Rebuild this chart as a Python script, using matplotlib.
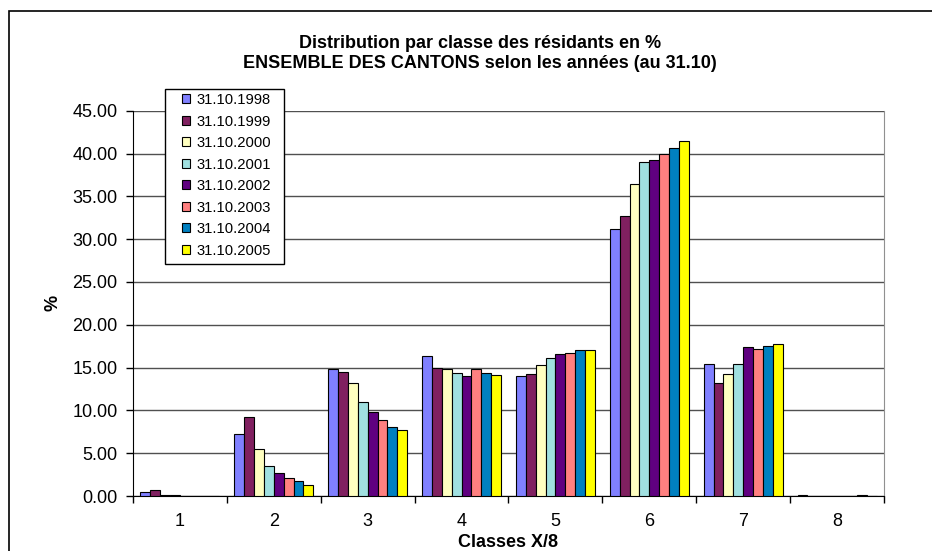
import matplotlib
matplotlib.use("Agg")
import matplotlib.pyplot as plt
import numpy as np
from matplotlib.patches import Rectangle

plt.rcParams['font.family'] = ['Liberation Sans', 'DejaVu Sans']

# classes X/8
classes = ["1", "2", "3", "4", "5", "6", "7", "8"]
years = ["31.10.1998", "31.10.1999", "31.10.2000", "31.10.2001",
         "31.10.2002", "31.10.2003", "31.10.2004", "31.10.2005"]

# % of residents per class, one list per year
v1998 = [0.50, 7.20, 14.85, 16.30, 14.05, 31.20, 15.40, 0.10]
v1999 = [0.65, 9.20, 14.45, 15.00, 14.30, 32.70, 13.25, 0.00]
v2000 = [0.10, 5.50, 13.15, 14.85, 15.25, 36.40, 14.30, 0.00]
v2001 = [0.10, 3.45, 10.95, 14.40, 16.15, 39.00, 15.40, 0.00]
v2002 = [0.00, 2.65, 9.85, 14.05, 16.55, 39.25, 17.40, 0.00]
v2003 = [0.00, 2.15, 8.85, 14.85, 16.70, 39.90, 17.15, 0.00]
v2004 = [0.00, 1.70, 8.10, 14.40, 17.00, 40.60, 17.55, 0.10]
v2005 = [0.00, 1.30, 7.75, 14.15, 17.00, 41.50, 17.80, 0.00]
series = [v1998, v1999, v2000, v2001, v2002, v2003, v2004, v2005]

colors = ["#8080FF", "#802060", "#FFFFC0", "#A0E0E0",
          "#600080", "#FF8080", "#0080C0", "#FFFF00"]

fig = plt.figure(figsize=(9.32, 5.51), dpi=100)
ax = fig.add_axes([0.1427, 0.0998, 0.8058, 0.6993])

# outer chart frame (cut by the image on the right and bottom)
fig.patches.append(Rectangle((9 / 932, -0.05), 1.0, 1 - 11 / 551 + 0.05,
                             transform=fig.transFigure, fill=False,
                             edgecolor="black", linewidth=1.2))

x = np.arange(1, len(classes) + 1)
n = len(series)
w = 1.0 / (n + 1.5)
for i, vals in enumerate(series):
    ax.bar(x + (i - (n - 1) / 2) * w, vals, width=w, color=colors[i],
           edgecolor="black", linewidth=0.8, label=years[i], zorder=3)

ax.set_xlim(0.5, len(classes) + 0.5)
ax.set_ylim(0, 45)
ax.set_yticks(np.arange(0, 45.1, 5))
ax.set_yticklabels([f"{t:.2f}" for t in np.arange(0, 45.1, 5)])
ax.set_xticks(x)
ax.set_xticklabels(classes)
ax.set_xticks(np.arange(0.5, len(classes) + 1), minor=True)
ax.tick_params(axis="x", which="major", length=0, labelsize=13, pad=12)
ax.tick_params(axis="x", which="minor", length=5, direction="out", width=1)
ax.tick_params(axis="y", length=5, direction="out", labelsize=13, width=1,
               pad=6)
ax.yaxis.grid(True, color="#505050", linewidth=1, zorder=0)

ax.spines["top"].set_visible(False)
ax.spines["right"].set_color("#909090")
ax.spines["left"].set_color("black")
ax.spines["bottom"].set_color("black")

ax.set_xlabel("Classes X/8", fontsize=13, fontweight="bold", labelpad=3)
ax.set_ylabel("%", fontsize=13, fontweight="bold", labelpad=8)

fig.text(0.515, 1 - 43 / 551, "Distribution par classe des résidants en %",
         ha="center", va="center", fontsize=13, fontweight="bold")
fig.text(0.515, 1 - 64 / 551, "ENSEMBLE DES CANTONS selon les années (au 31.10)",
         ha="center", va="center", fontsize=13, fontweight="bold")

# legend box drawn separately so its size matches the original
ax.add_patch(Rectangle((165 / 932, 1 - 264 / 551), 119 / 932, 175 / 551,
                       transform=fig.transFigure, facecolor="white",
                       edgecolor="black", linewidth=1, zorder=5,
                       clip_on=False))
leg = ax.legend(loc="upper left", bbox_to_anchor=(182 / 932, 1 - 93 / 551),
                bbox_transform=fig.transFigure, fontsize=10.6, frameon=False,
                handlelength=0.55, handleheight=0.55, handletextpad=0.45,
                labelspacing=0.51, borderpad=0, borderaxespad=0)
leg.set_zorder(6)

fig.savefig("out.png", dpi=100)
